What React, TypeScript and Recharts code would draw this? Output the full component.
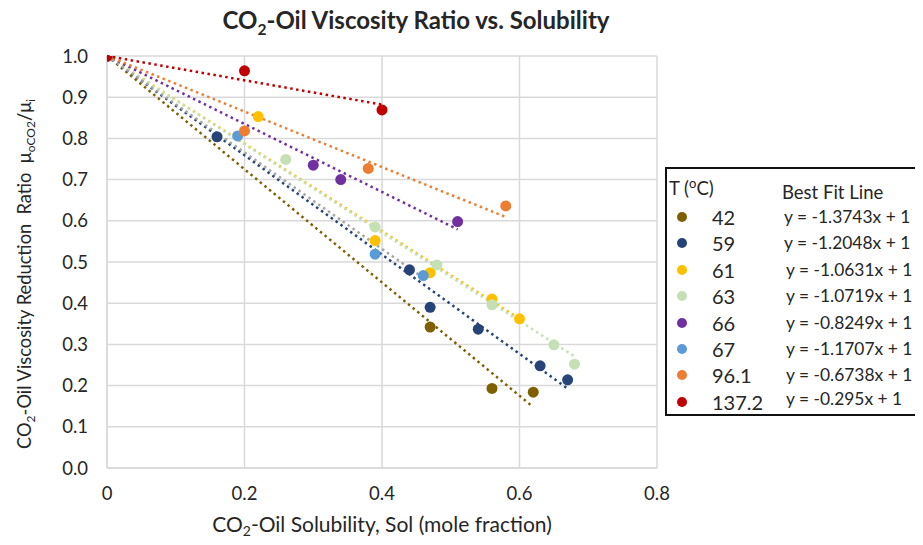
import React from 'react';
import { ScatterChart, Scatter, XAxis, YAxis, CartesianGrid, ReferenceLine } from 'recharts';

const temps = ['42', '59', '61', '63', '66', '67', '96.1', '137.2'];
const markerColors = ['#7F6000', '#264478', '#FFC000', '#C5E0B4', '#7030A0', '#5B9BD5', '#ED7D31', '#C00000'];
const trendColors = ['#7F6000', '#264478', '#FFC000', '#C5E0B4', '#7030A0', '#A5A5A5', '#ED7D31', '#C00000'];
const slopes = [-1.3743, -1.2048, -1.0631, -1.0719, -0.8249, -1.1707, -0.6738, -0.295];
const equations = [
  'y = -1.3743x + 1',
  'y = -1.2048x + 1',
  'y = -1.0631x + 1',
  'y = -1.0719x + 1',
  'y = -0.8249x + 1',
  'y = -1.1707x + 1',
  'y = -0.6738x + 1',
  'y = -0.295x + 1',
];

const sol42 = [0, 0.47, 0.56, 0.62];
const ratio42 = [1, 0.342, 0.193, 0.184];
const sol59 = [0, 0.16, 0.44, 0.47, 0.54, 0.63, 0.67];
const ratio59 = [1, 0.804, 0.481, 0.39, 0.337, 0.248, 0.214];
const sol61 = [0, 0.22, 0.39, 0.47, 0.56, 0.6];
const ratio61 = [1, 0.853, 0.552, 0.474, 0.41, 0.362];
const sol63 = [0, 0.26, 0.39, 0.48, 0.56, 0.65, 0.68];
const ratio63 = [1, 0.749, 0.585, 0.493, 0.396, 0.299, 0.252];
const sol66 = [0, 0.3, 0.34, 0.51];
const ratio66 = [1, 0.735, 0.7, 0.598];
const sol67 = [0, 0.19, 0.39, 0.46];
const ratio67 = [1, 0.806, 0.519, 0.467];
const sol96 = [0, 0.2, 0.38, 0.58];
const ratio96 = [1, 0.818, 0.727, 0.636];
const sol137 = [0, 0.2, 0.4];
const ratio137 = [1, 0.964, 0.869];

const solSets = [sol42, sol59, sol61, sol63, sol66, sol67, sol96, sol137];
const ratioSets = [ratio42, ratio59, ratio61, ratio63, ratio66, ratio67, ratio96, ratio137];

const xTicks = [0, 0.2, 0.4, 0.6, 0.8];
const yTicks = [0, 0.1, 0.2, 0.3, 0.4, 0.5, 0.6, 0.7, 0.8, 0.9, 1.0];

const FONT = 'Lato, "Noto Sans", sans-serif';
const TEXT = '#262626';

const series = temps.map((t, i) => ({
  name: t,
  color: markerColors[i],
  trend: trendColors[i],
  slope: slopes[i],
  eq: equations[i],
  data: solSets[i].map((x, j) => ({ x, y: ratioSets[i][j] })),
  maxX: Math.max(...solSets[i]),
}));

const W = 915;
const H = 529;

export default function App() {
  return (
    <div style={{ position: 'relative', width: W, height: H, fontFamily: FONT, background: '#fff' }}>
      <ScatterChart width={W} height={H} margin={{ top: 48, right: 266, bottom: 39, left: 39 }}>
        <CartesianGrid stroke="#d9d9d9" strokeWidth={1.5} />
        <XAxis
          type="number"
          dataKey="x"
          domain={[0, 0.8]}
          ticks={xTicks}
          interval={0}
          tickFormatter={(v: number) => (v === 0 ? '0' : v.toFixed(1))}
          tick={{ fontSize: 18.5, fill: TEXT, fontFamily: FONT }}
          tickLine={false}
          axisLine={{ stroke: '#d9d9d9', strokeWidth: 1.5 }}
          tickMargin={13}
          height={30}
          allowDataOverflow
        />
        <YAxis
          type="number"
          dataKey="y"
          domain={[0, 1]}
          ticks={yTicks}
          interval={0}
          tickFormatter={(v: number) => v.toFixed(1)}
          tick={{ fontSize: 18.5, fill: TEXT, fontFamily: FONT }}
          tickLine={false}
          axisLine={{ stroke: '#d9d9d9', strokeWidth: 1.5 }}
          tickMargin={13}
          width={60}
          allowDataOverflow
        />
        {series.map((s) => (
          <Scatter
            key={s.name}
            name={s.name}
            data={s.data}
            fill={s.color}
            isAnimationActive={false}
            shape={(p: any) => <circle cx={p.cx} cy={p.cy} r={5.5} fill={s.color} />}
          />
        ))}
        {series.map((s) => (
          <ReferenceLine
            key={'t' + s.name}
            segment={[
              { x: 0, y: 1 },
              { x: s.maxX, y: 1 + s.slope * s.maxX },
            ]}
            stroke={s.trend}
            strokeWidth={2.5}
            strokeDasharray="2.5 3.5"
            ifOverflow="visible"
          />
        ))}
      </ScatterChart>

      <div
        style={{
          position: 'absolute',
          left: 408,
          top: -2,
          transform: 'translateX(-50%)',
          whiteSpace: 'nowrap',
          fontWeight: 700,
          fontSize: 24,
          lineHeight: '27px',
          color: TEXT,
        }}
      >
        CO<sub style={{ fontSize: 15.5, lineHeight: 0 }}>2</sub>-Oil Viscosity Ratio vs. Solubility
      </div>

      <svg width={W} height={H} style={{ position: 'absolute', left: 0, top: 0, pointerEvents: 'none', overflow: 'visible' }}>
        <text
          transform="translate(23,266) rotate(-90)"
          textAnchor="middle"
          fontSize={18.3}
          fill={TEXT}
          fontFamily={FONT}
          style={{ whiteSpace: 'pre' }}
        >
          <tspan>CO</tspan>
          <tspan fontSize={12} dy={4}>2</tspan>
          <tspan dy={-4}>{'-Oil Viscosity Reduction  Ratio  μ'}</tspan>
          <tspan fontSize={12} dy={4}>oCO2</tspan>
          <tspan dy={-4}>/μ</tspan>
          <tspan fontSize={12} dy={4}>i</tspan>
        </text>
        <text
          x={374}
          y={524}
          textAnchor="middle"
          fontSize={21}
          fill={TEXT}
          fontFamily={FONT}
        >
          <tspan>CO</tspan>
          <tspan fontSize={14} dy={4}>2</tspan>
          <tspan dy={-4}>-Oil Solubility, Sol (mole fraction)</tspan>
        </text>
      </svg>

      <div
        style={{
          position: 'absolute',
          left: 657,
          top: 159,
          width: 253,
          height: 249,
          boxSizing: 'border-box',
          border: '2px solid #111',
          background: '#fff',
          color: TEXT,
        }}
      >
        <div style={{ position: 'absolute', left: 2, top: 8, fontSize: 18.5, lineHeight: '22px', whiteSpace: 'nowrap' }}>
          T (<sup style={{ fontSize: 13, lineHeight: 0 }}>o</sup>C)
        </div>
        <div style={{ position: 'absolute', left: 115, top: 12, fontSize: 18.5, lineHeight: '22px', whiteSpace: 'nowrap' }}>
          Best Fit Line
        </div>
        {series.map((s, i) => {
          const cy = 48 + i * 26.4;
          return (
            <React.Fragment key={'lg' + s.name}>
              <svg
                width={12}
                height={12}
                style={{ position: 'absolute', left: 9, top: cy - 6 }}
              >
                <circle cx={6} cy={6} r={5} fill={s.color} />
              </svg>
              <div
                style={{
                  position: 'absolute',
                  left: 45,
                  top: cy - 12,
                  fontSize: 20,
                  lineHeight: '24px',
                  whiteSpace: 'nowrap',
                }}
              >
                {s.name}
              </div>
              <div
                style={{
                  position: 'absolute',
                  left: i < 2 ? 117 : 119,
                  top: (i === 7 ? cy - 3 : cy) - 11,
                  fontSize: 17.4,
                  lineHeight: '22px',
                  whiteSpace: 'nowrap',
                }}
              >
                {s.eq}
              </div>
            </React.Fragment>
          );
        })}
      </div>
    </div>
  );
}
